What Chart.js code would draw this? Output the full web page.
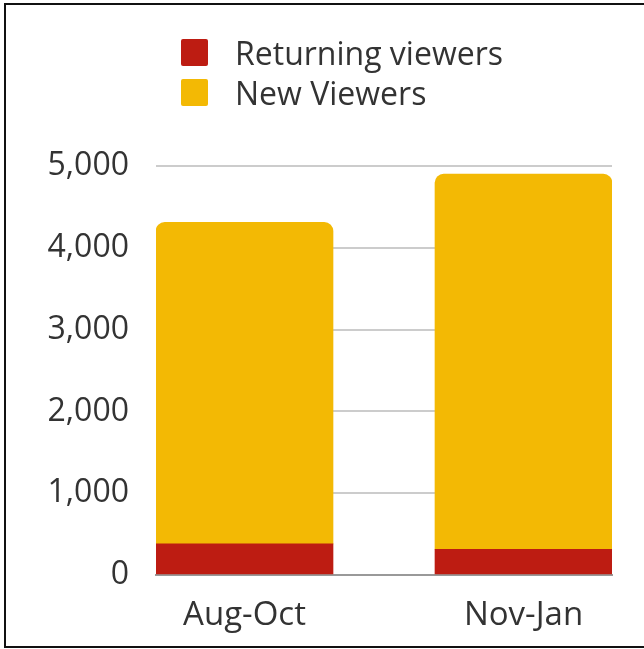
<!DOCTYPE html>
<html>
<head>
<meta charset="utf-8">
<script src="https://cdn.jsdelivr.net/npm/chart.js@4/dist/chart.umd.min.js"></script>
<style>
  html, body { margin: 0; padding: 0; background: #fff; }
  #wrap { position: relative; width: 644px; height: 649px; overflow: hidden; }
  #frame { position: absolute; left: 4px; top: 3px; width: 660px; height: 641px;
           border-left: 2px solid #111; border-top: 2px solid #111; border-bottom: 2px solid #111; }
  #legend { position: absolute; left: 181px; top: 39px; font-family: 'Open Sans', sans-serif;
            font-size: 32px; color: #333; }
  .item { display: flex; align-items: center; height: 27px; margin-bottom: 13px; }
  .box { width: 27px; height: 27px; margin-right: 27px; border-radius: 2px; }
  canvas { position: absolute; left: 0; top: 0; }
</style>
</head>
<body>
<div id="wrap">
  <canvas id="chartViewers" width="644" height="649"></canvas>
  <div id="frame"></div>
  <div id="legend"></div>
</div>
<script>
// valores
const periods = ['Aug-Oct', 'Nov-Jan'];
const returningViewers = [380, 315];
const newViewers = [3930, 4585];
const yTicks = [0, 1000, 2000, 3000, 4000, 5000];

const RED = '#bd1c12';
const YELLOW = '#f3b904';

const datasets = [
  { label: 'Returning viewers', data: periods.map((_, i) => ({ x: i, y: returningViewers[i] })), backgroundColor: RED, borderRadius: 0 },
  { label: 'New Viewers', data: periods.map((_, i) => ({ x: i, y: newViewers[i] })), backgroundColor: YELLOW,
    borderRadius: { topLeft: 9, topRight: 9, bottomLeft: 0, bottomRight: 0 }, borderSkipped: false },
];

// legenda em html (uma linha por serie, como no original)
const legend = document.getElementById('legend');
datasets.forEach((ds) => {
  const row = document.createElement('div');
  row.className = 'item';
  row.innerHTML = `<span class="box" style="background:${ds.backgroundColor}"></span><span>${ds.label}</span>`;
  legend.appendChild(row);
});

const font = { family: "'Open Sans', sans-serif", size: 32 };

window._viewersChart = new Chart(document.getElementById('chartViewers'), {
  type: 'bar',
  data: { datasets },
  options: {
    responsive: false,
    animation: false,
    layout: { padding: { left: 0, top: 166, right: 32, bottom: 0 } },
    datasets: { bar: { barThickness: 177 } },
    plugins: { legend: { display: false }, tooltip: { enabled: false } },
    scales: {
      x: {
        type: 'linear',
        stacked: true,
        offset: false,
        min: -0.3172,
        max: 1.3172,
        afterFit: (s) => { s.height = 74; },
        afterBuildTicks: (s) => { s.ticks = periods.map((_, i) => ({ value: i })); },
        grid: { display: false, offset: false },
        border: { display: true, color: '#999', width: 2 },
        ticks: { autoSkip: false, maxRotation: 0, padding: 13, color: '#333', font: { ...font, size: 33 },
          callback: (v) => periods[v] },
      },
      y: {
        stacked: true,
        min: 0,
        max: 5000,
        afterFit: (s) => { s.width = 156; },
        afterBuildTicks: (s) => { s.ticks = yTicks.map((v) => ({ value: v })); },
        grid: { color: '#cccccc', lineWidth: 2, drawTicks: false },
        border: { display: false },
        ticks: { padding: 27, color: '#333', font, callback: (v) => Number(v).toLocaleString('en-US') },
      },
    },
  },
});
</script>
</body>
</html>
